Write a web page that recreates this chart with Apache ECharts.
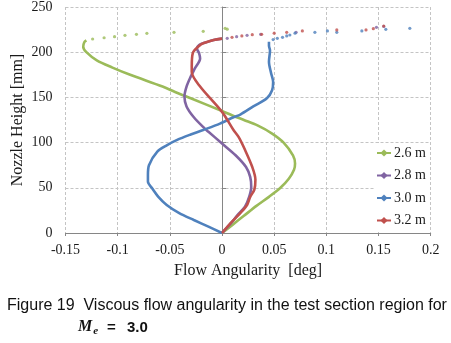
<!DOCTYPE html>
<html><head><meta charset="utf-8">
<script src="https://cdn.jsdelivr.net/npm/echarts@6/dist/echarts.min.js"></script>
<style>html,body{margin:0;padding:0;background:#fff}#c{width:451px;height:343px}</style>
</head><body><div id="c"></div>
<script>
// ---- data: [flow angularity (deg), nozzle height (mm)] ----
const seriesNames = ['2.6 m', '2.8 m', '3.0 m', '3.2 m'];
const xTicks = [-0.15, -0.1, -0.05, 0, 0.05, 0.1, 0.15, 0.2];
const yTicks = [0, 50, 100, 150, 200, 250];

const green26 = [[0,0],[0.010,9],[0.021,19],[0.033,30],[0.045,40],[0.056,50],[0.064,60],[0.069,70],[0.070,77],[0.068,86],[0.059,100],[0.048,110],[0.034,119],[0.021,125],[0.010,130],[0,135],[-0.030,149],[-0.045,156],[-0.057,162],[-0.088,175],[-0.105,183],[-0.120,191],[-0.130,200],[-0.133,206],[-0.132,211],[-0.130,213]];
const green26Dots = [[-0.124,214.6],[-0.113,216],[-0.103,217.2],[-0.093,218.7],[-0.082,219.8],[-0.072,220.9],[-0.046,222],[-0.018,223.1],[0.003,226.4],[0.005,225.5]];

const purple28 = [[0,0],[0.008,10],[0.015,20],[0.022,29],[0.026,40],[0.028,51],[0.027,62],[0.023,73],[0.013,86],[0,99],[-0.013,112],[-0.017,116],[-0.027,128],[-0.034,140],[-0.036,151],[-0.034,162],[-0.030,173],[-0.026,182],[-0.021,193],[-0.022,199],[-0.024,204],[-0.022,208],[-0.015,211],[-0.008,213.5],[0,215]];
const purple28Dots = [[0.005,215.4],[0.014,217.2],[0.024,218.7],[0.037,219.8],[0.071,222],[0.148,227.5],[0.155,228.5]];

const blue30 = [[0,0],[-0.013,7],[-0.027,14.4],[-0.041,22],[-0.053,31],[-0.061,40],[-0.067,49.4],[-0.071,57],[-0.071,64],[-0.070,75],[-0.062,90],[-0.053,97],[-0.043,103],[-0.030,109],[-0.018,114],[-0.002,121],[0.011,128],[0.0175,131],[0.030,140],[0.043,149],[0.048,158],[0.049,167],[0.047,177],[0.045,189.5],[0.046,202],[0.045,207],[0.045,211.6]];
const blue30Dots = [[0.049,214],[0.053,215.3],[0.058,216.4],[0.062,218],[0.065,219],[0.070,221],[0.089,222],[0.101,223.5],[0.110,222],[0.134,223.5],[0.157,225.3],[0.180,226.4]];

const red32 = [[0,0],[0.008,10.7],[0.0175,22],[0.024,31],[0.027,40],[0.031,48],[0.032,59],[0.029,73],[0.022,92],[0.016,106],[0.011,114],[0,134],[-0.021,162],[-0.029,178],[-0.029,184],[-0.028,199],[-0.021,208],[-0.018,210],[-0.008,213.5],[0,215]];
const red32Dots = [[0.0096,216.5],[0.019,218],[0.029,219.4],[0.038,219.8],[0.050,221],[0.062,222],[0.077,223.5],[0.110,224.6],[0.138,224.6],[0.145,226],[0.155,229]];

const colors = ['#9BBB59', '#8064A2', '#4F81BD', '#C0504D'];
// ---------------------------------------------------------------

const lines = [green26, purple28, blue30, red32];
const dots = [green26Dots, purple28Dots, blue30Dots, red32Dots];
const serif = '"Liberation Serif","Times New Roman",serif';

const series = [];
lines.forEach((d, i) => {
  series.push({
    name: seriesNames[i], type: 'line', data: d, smooth: 0.3,
    symbol: 'diamond', symbolSize: 7, showSymbol: false,
    lineStyle: { color: colors[i], width: 2.6 }, itemStyle: { color: colors[i] },
    z: 3 + i
  });
});
dots.forEach((d, i) => {
  series.push({
    name: seriesNames[i] + ' pts', type: 'scatter', data: d,
    symbol: 'circle', symbolSize: 3.2, itemStyle: { color: colors[i] }, z: 3 + i
  });
});

const fmt = v => String(parseFloat(v.toFixed(2)));

const chart = echarts.init(document.getElementById('c'), null, { renderer: 'canvas' });
chart.setOption({
  backgroundColor: '#fff',
  animation: false,
  grid: { left: 65.5, right: 20.3, top: 7, bottom: 110, containLabel: false, outerBoundsMode: 'none' },
  xAxis: {
    type: 'value', min: xTicks[0], max: xTicks[xTicks.length - 1], interval: 0.05,
    name: 'Flow Angularity  [deg]', nameLocation: 'middle', nameGap: 30, nameMoveOverlap: false,
    nameTextStyle: { fontFamily: serif, fontSize: 16, color: '#1a1a1a' },
    axisLine: { show: true, onZero: false, lineStyle: { color: '#868686', width: 1 } },
    axisTick: { show: true, length: 3, lineStyle: { color: '#868686' } },
    axisLabel: { formatter: fmt, fontFamily: serif, fontSize: 14, color: '#1a1a1a', margin: 10 },
    splitLine: { show: true, lineStyle: { color: '#c4c4c4', type: [3, 2], width: 1 } }
  },
  yAxis: [{
    type: 'value', min: yTicks[0], max: yTicks[yTicks.length - 1], interval: 50,
    name: 'Nozzle Height [mm]', nameLocation: 'middle', nameGap: 40, nameMoveOverlap: false,
    nameTextStyle: { fontFamily: serif, fontSize: 16, color: '#1a1a1a' },
    axisLine: { show: false, onZero: false },
    axisTick: { show: false },
    axisLabel: { fontFamily: serif, fontSize: 14, color: '#1a1a1a', margin: 13 },
    splitLine: { show: true, lineStyle: { color: '#c4c4c4', type: [3, 2], width: 1 } }
  }, {
    type: 'value', min: 0, max: 250, interval: 50, position: 'left',
    axisLine: { show: true, onZero: true, lineStyle: { color: '#868686', width: 1 } },
    axisTick: { show: true, inside: true, length: 4, lineStyle: { color: '#868686' } },
    axisLabel: { show: false }, splitLine: { show: false }
  }],
  legend: {
    data: seriesNames, orient: 'vertical', left: 374, top: 143,
    itemWidth: 14, itemHeight: 9, itemGap: 6.5, padding: [2, 4, 2, 2],
    backgroundColor: '#fff',
    textStyle: { fontFamily: serif, fontSize: 14, color: '#1a1a1a', lineHeight: 16, padding: [0, 0, 0, -2] }
  },
  graphic: [
    { type: 'text', left: 7, top: 298, style: { text: 'Figure 19  Viscous flow angularity in the test section region for', font: '16px "Liberation Sans", Arial, sans-serif', fill: '#111' } },
    { type: 'text', left: 78, top: 319, style: {
        text: '{m|M}{s|e}',
        rich: {
          m: { font: 'italic bold 16px "Liberation Serif", serif', fill: '#111' },
          s: { font: 'italic bold 11px "Liberation Serif", serif', fill: '#111', padding: [8, 0, 0, 1] }
        } } },
    { type: 'text', left: 107, top: 320, style: { text: '=', font: 'bold 15px "Liberation Sans", Arial, sans-serif', fill: '#111' } },
    { type: 'text', left: 127, top: 320, style: { text: '3.0', font: 'bold 15px "Liberation Sans", Arial, sans-serif', fill: '#111' } }
  ],
  series: series
});
</script></body></html>
